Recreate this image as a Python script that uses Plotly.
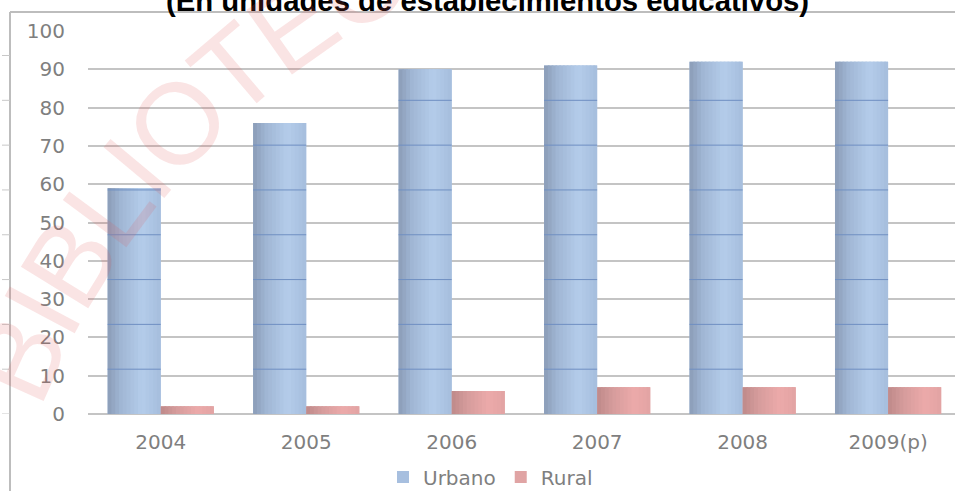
import math
import plotly.graph_objects as go

# ---- data ----
years = ["2004", "2005", "2006", "2007", "2008", "2009(p)"]
urbano = [59, 76, 90, 91, 92, 92]
rural = [2, 2, 6, 7, 7, 7]
y_tick_vals = [0, 10, 20, 30, 40, 50, 60, 70, 80, 90, 100]
title_text = "(En unidades de establecimientos educativos)"
watermark_text = "BIBLIOTECA"

# ---- geometry / style ----
W, H = 955, 491
ML, MR, MT, MB = 88, 0, 31, 77
PW, PH = W - ML - MR, H - MT - MB
BARGAP = 0.27
INNER_STEP = 11.7      # spacing of the 3-D back-wall lines seen through bars
GREY = "#C4C4C4"
TXT = "#7F7F7F"
# cylinder-like shading: (position across bar, colour)
URB_SHADE = [(0.0, (139, 156, 183)), (0.25, (160, 182, 212)), (0.65, (180, 204, 234)), (1.0, (166, 189, 221))]
RUR_SHADE = [(0.0, (190, 138, 138)), (0.3, (214, 156, 156)), (0.7, (236, 170, 170)), (1.0, (226, 163, 163))]
N_STRIPS = 14


def px_x(px):
    return (px - ML) / PW


def px_y(py):
    return (H - MB - py) / PH


def shade(profile, t):
    for (t0, c0), (t1, c1) in zip(profile[:-1], profile[1:]):
        if t0 <= t <= t1:
            f = (t - t0) / (t1 - t0)
            return "rgb(%d,%d,%d)" % tuple(round(a + (b - a) * f) for a, b in zip(c0, c1))
    return "rgb(%d,%d,%d)" % profile[-1][1]


fig = go.Figure()
fig.add_bar(x=years, y=urbano, name="Urbano", marker=dict(color="#A7BFDF", line=dict(width=0)))
fig.add_bar(x=years, y=rural, name="Rural", marker=dict(color="#E0A4A4", line=dict(width=0)))

shapes = []
half = (1 - BARGAP) / 2
# shading strips over each bar (each strip overlaps the next to avoid seams)
for series, offset, profile in ((urbano, -half, URB_SHADE), (rural, 0.0, RUR_SHADE)):
    for i, v in enumerate(series):
        x_start = i + offset
        for s in range(N_STRIPS):
            t = (s + 0.5) / N_STRIPS
            x1 = x_start + half * (s + 1) / N_STRIPS
            if s < N_STRIPS - 1:
                x1 += 0.012
            shapes.append(dict(type="rect", xref="x", yref="y",
                               x0=x_start + half * s / N_STRIPS, x1=x1,
                               y0=0, y1=v, line=dict(width=0),
                               fillcolor=shade(profile, t), layer="above"))
# faint 3-D lines inside the urban bars
for i, v in enumerate(urbano):
    k = 1
    while k * INNER_STEP < v:
        shapes.append(dict(type="line", xref="x", yref="y",
                           x0=i - half, x1=i, y0=k * INNER_STEP, y1=k * INNER_STEP,
                           line=dict(color="#6F8FC2", width=1), layer="above"))
        k += 1

# chart frame: top and left border lines
shapes.append(dict(type="line", xref="paper", yref="paper",
                   x0=px_x(10), x1=1, y0=px_y(12), y1=px_y(12),
                   line=dict(color="#BDBDBD", width=2)))
shapes.append(dict(type="line", xref="paper", yref="paper",
                   x0=px_x(10), x1=px_x(10), y0=px_y(491), y1=px_y(12),
                   line=dict(color="#BDBDBD", width=2)))
for k in range(-1, 9):
    shapes.append(dict(type="line", xref="paper", yref="y",
                       x0=px_x(2), x1=px_x(10), y0=k * INNER_STEP, y1=k * INNER_STEP,
                       line=dict(color="#C8C8C8", width=1)))

annotations = [
    dict(text="<b>" + title_text + "</b>", xref="paper", yref="paper",
         x=px_x(487.5), y=px_y(19), xanchor="center", yanchor="bottom",
         showarrow=False, font=dict(family="Liberation Sans, Arial", size=29.3, color="#000000")),
]

# watermark stamp: letters set along a large arc
WM_CX, WM_CY, WM_R = 764, 692, 826
WM_SIZE = 115
WM_ANCHOR = 5            # the "O" sits at the anchor point
WM_AX, WM_AY = 172, 118
adv = {"B": .667, "I": .278, "L": .556, "O": .778, "T": .611, "E": .667, "C": .722, "A": .667}
widths = [adv[c] for c in watermark_text]
centers = [sum(widths[:j]) + widths[j] / 2 for j in range(len(widths))]
phi0 = math.atan2(WM_AY - WM_CY, WM_AX - WM_CX)
r_box = WM_R - 0.08 * WM_SIZE
for j, ch in enumerate(watermark_text):
    phi = phi0 + WM_SIZE * (centers[j] - centers[WM_ANCHOR]) / WM_R
    px = WM_CX + r_box * math.cos(phi)
    py = WM_CY + r_box * math.sin(phi)
    ang = math.degrees(math.atan2(math.cos(phi), -math.sin(phi)))
    annotations.append(dict(text=ch, xref="paper", yref="paper", x=px_x(px), y=px_y(py),
                            xanchor="center", yanchor="middle", textangle=ang, showarrow=False,
                            font=dict(family="Liberation Sans, Arial", size=WM_SIZE,
                                      color="rgba(225,90,90,0.16)")))

fig.update_layout(
    width=W, height=H,
    margin=dict(l=ML, r=MR, t=MT, b=MB, pad=0, autoexpand=False),
    paper_bgcolor="white", plot_bgcolor="white",
    barmode="group", bargap=BARGAP, bargroupgap=0,
    font=dict(family="DejaVu Sans", color=TXT, size=20),
    xaxis=dict(type="category", range=[-0.5, 5.46], showgrid=False, showline=False, automargin=False,
               ticks="", tickfont=dict(size=20, color=TXT), ticklabelstandoff=14),
    yaxis=dict(range=[0, 100], tickvals=y_tick_vals, showgrid=True, gridcolor=GREY, gridwidth=2,
               zeroline=True, zerolinecolor=GREY, zerolinewidth=2, showline=False, ticks="",
               automargin=False, tickfont=dict(size=20, color=TXT), ticklabelstandoff=22),
    showlegend=True,
    legend=dict(orientation="h", x=px_x(383), xanchor="left", y=px_y(477), yanchor="middle",
                font=dict(size=20, color=TXT), bgcolor="rgba(0,0,0,0)"),
    shapes=shapes,
    annotations=annotations,
)

fig.write_html("out.html", config={"displayModeBar": False},
               post_script="document.body.style.margin='0';document.body.style.overflow='hidden';")
